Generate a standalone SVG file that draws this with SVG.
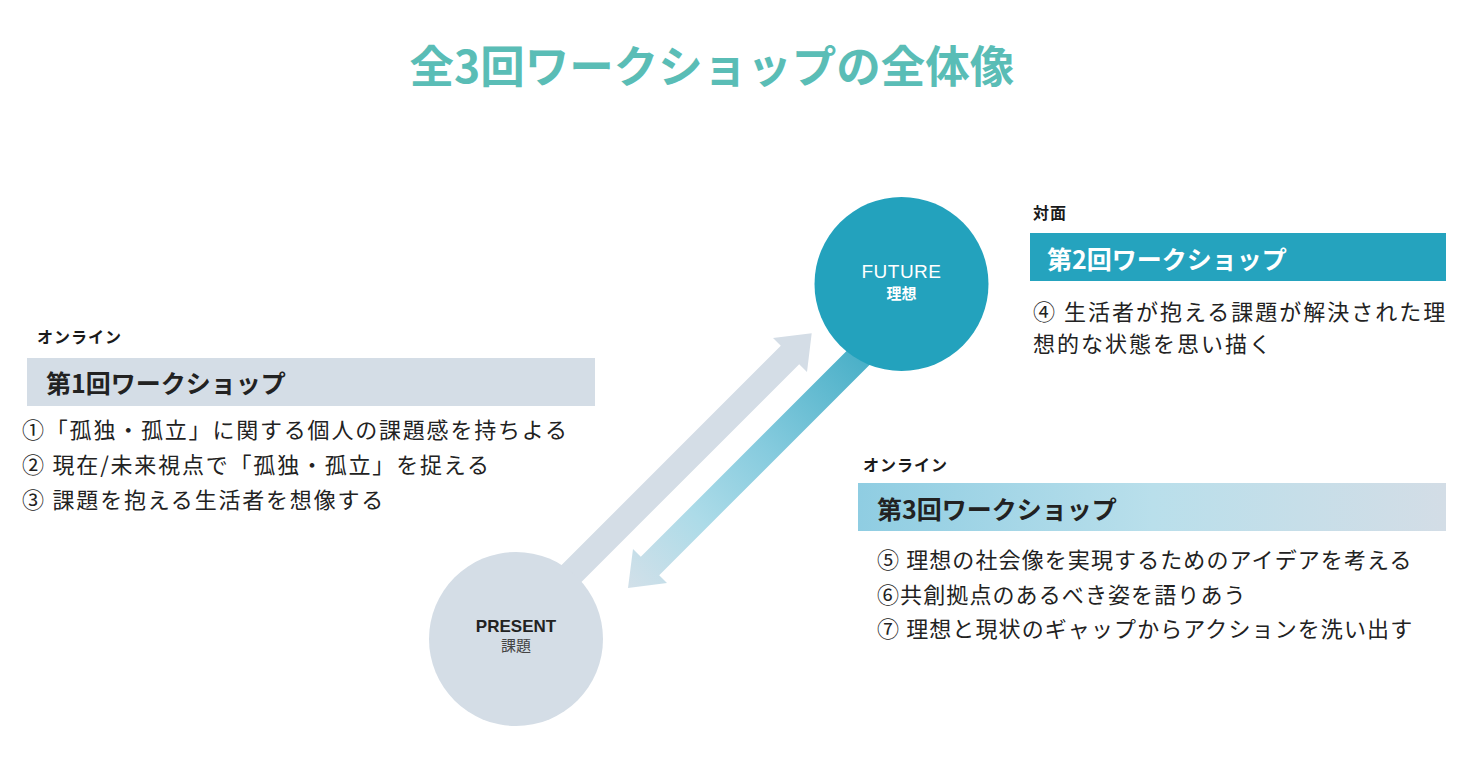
<svg xmlns="http://www.w3.org/2000/svg" width="1480" height="776" viewBox="0 0 1480 776">
  <defs>
    <linearGradient id="blueArrow" gradientUnits="userSpaceOnUse" x1="880" y1="336" x2="628" y2="588">
      <stop offset="0" stop-color="#3eaac3"/>
      <stop offset="0.45" stop-color="#86cbde"/>
      <stop offset="0.72" stop-color="#acdbe8"/>
      <stop offset="1" stop-color="#d2e0e9"/>
    </linearGradient>
    <linearGradient id="ws3grad" x1="0" y1="0" x2="1" y2="0">
      <stop offset="0" stop-color="#8fcde2"/>
      <stop offset="0.5" stop-color="#b9dfeb"/>
      <stop offset="1" stop-color="#d3dde6"/>
    </linearGradient>
  </defs>
  <style>
    .jp { font-family: "Noto Sans CJK JP", "Liberation Sans", sans-serif; }
    .title { font-size: 44.5px; font-weight: 700; fill: #5abdb6; }
    .mode { font-size: 16px; font-weight: 700; fill: #1a1a1a; letter-spacing: 1px; }
    .head { font-size: 25px; font-weight: 700; }
    .item { font-size: 22px; fill: #222222; letter-spacing: 1.8px; }
    .item3 { letter-spacing: 1.1px; }
    .item2 { letter-spacing: 2px; }
    .lat { font-family: "Liberation Sans", "Noto Sans CJK JP", sans-serif; }
  </style>
  <rect width="1480" height="776" fill="#ffffff"/>

  <g id="title">
    <text class="jp title" x="712" y="83" text-anchor="middle">全3回ワークショップの全体像</text>
  </g>

  <g id="connectors">
    <polygon fill="#d4dde6" points="510.8,615.8 780.8,345.8 773,338 811.7,333.3 807,372 799.2,364.2 529.2,634.2"/>
    <polygon fill="url(#blueArrow)" points="889.2,345.2 659.2,575.2 667,583 628,588 633,549 640.8,556.8 870.8,326.8"/>
  </g>

  <g id="future">
    <circle cx="901.5" cy="284" r="87" fill="#23a2bd"/>
    <text class="lat" x="901.5" y="278" text-anchor="middle" font-size="19" letter-spacing="0.5" fill="#ffffff">FUTURE</text>
    <text class="jp" x="901.5" y="299" text-anchor="middle" font-size="15" font-weight="700" fill="#ffffff">理想</text>
  </g>

  <g id="present">
    <circle cx="516" cy="639" r="87" fill="#d4dde6"/>
    <text class="lat" x="516" y="632" text-anchor="middle" font-size="17" font-weight="700" fill="#222222">PRESENT</text>
    <text class="jp" x="516" y="651" text-anchor="middle" font-size="15" fill="#444444">課題</text>
  </g>

  <g id="ws1">
    <text class="jp mode" x="37" y="343">オンライン</text>
    <rect x="27" y="358" width="568" height="48" fill="#d4dde6"/>
    <text class="jp head" x="46" y="393" fill="#222222">第1回ワークショップ</text>
    <text class="jp item" x="22" y="438">①「孤独・孤立」に関する個人の課題感を持ちよる</text>
    <text class="jp item" x="22" y="473">② 現在/未来視点で「孤独・孤立」を捉える</text>
    <text class="jp item" x="22" y="508">③ 課題を抱える生活者を想像する</text>
  </g>

  <g id="ws2">
    <text class="jp mode" x="1033" y="219">対面</text>
    <rect x="1030" y="233" width="416" height="48" fill="#25a3be"/>
    <text class="jp head" x="1047" y="269" fill="#ffffff">第2回ワークショップ</text>
    <text class="jp item item2" x="1033" y="320">④ 生活者が抱える課題が解決された理</text>
    <text class="jp item item2" x="1033" y="352">想的な状態を思い描く</text>
  </g>

  <g id="ws3">
    <text class="jp mode" x="863" y="471">オンライン</text>
    <rect x="858" y="483" width="588" height="48" fill="url(#ws3grad)"/>
    <text class="jp head" x="877" y="519" fill="#222222">第3回ワークショップ</text>
    <text class="jp item item3" x="877" y="568">⑤ 理想の社会像を実現するためのアイデアを考える</text>
    <text class="jp item item3" x="877" y="603">⑥共創拠点のあるべき姿を語りあう</text>
    <text class="jp item item3" x="877" y="637">⑦ 理想と現状のギャップからアクションを洗い出す</text>
  </g>
</svg>
